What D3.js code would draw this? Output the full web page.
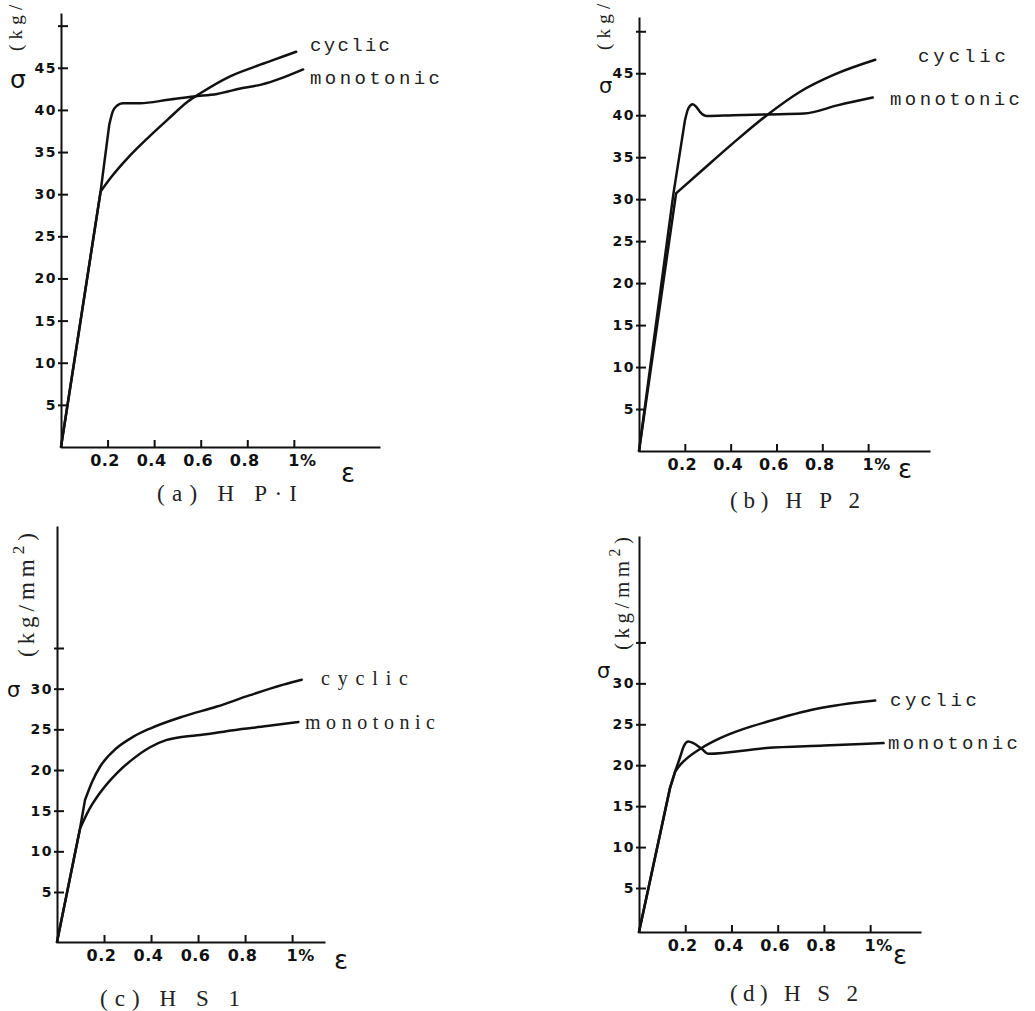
<!DOCTYPE html>
<html>
<head>
<meta charset="utf-8">
<script src="https://cdn.jsdelivr.net/npm/d3@7"></script>
<style>
  body { margin: 0; background: #fff; }
  svg { display: block; }
</style>
</head>
<body>
<svg id="chart" width="1035" height="1011"></svg>
<script>
// strain ticks (%), shared by all four panels
let strainTicks = [0.2, 0.4, 0.6, 0.8, 1.0]
let strainTickLabels = ["0.2", "0.4", "0.6", "0.8", "1%"]

// stress ticks (kg/mm2)
let stressTicksHP = [5, 10, 15, 20, 25, 30, 35, 40, 45, 50]
let stressLabelsHP = [5, 10, 15, 20, 25, 30, 35, 40, 45]
let stressTicksHS = [5, 10, 15, 20, 25, 30, 35]
let stressLabelsHS = [5, 10, 15, 20, 25, 30]

let seriesNames = ["cyclic", "monotonic"]
let captions = ["(a) H P\u00b7I", "(b) H P 2", "(c) H S 1", "(d) H S 2"]

// [strain %, stress kg/mm2]
let hp1Cyclic = [[0, 0], [0.17, 30.3], [0.215, 32.0], [0.29, 34.4], [0.37, 36.6], [0.46, 38.9],
  [0.545, 41.0], [0.60, 42.0], [0.72, 43.9], [0.83, 45.1], [0.91, 45.9], [1.01, 46.9]]
let hp1Monotonic = [[0, 0], [0.17, 30.3], [0.207, 38.2], [0.222, 39.8], [0.24, 40.5], [0.265, 40.8],
  [0.34, 40.8], [0.46, 41.2], [0.57, 41.6], [0.67, 41.9], [0.78, 42.6], [0.86, 43.0], [0.95, 43.8], [1.04, 44.8]]

let hp2Cyclic = [[0, 0], [0.162, 30.7], [0.266, 33.2], [0.412, 36.7], [0.558, 40.0], [0.703, 42.8],
  [0.849, 44.8], [1.031, 46.6]]
let hp2Monotonic = [[0, 0], [0.15, 30.6], [0.2, 39.3], [0.215, 40.8], [0.234, 41.3], [0.25, 41.0],
  [0.266, 40.4], [0.296, 39.9], [0.41, 40.0], [0.56, 40.1], [0.72, 40.2], [0.87, 41.2], [1.02, 42.1]]

let hs1Cyclic = [[0, 0], [0.098, 12.8], [0.119, 16.3], [0.15, 18.6], [0.183, 20.4], [0.254, 22.7],
  [0.325, 24.1], [0.396, 25.1], [0.538, 26.6], [0.68, 27.8], [0.821, 29.2], [0.963, 30.5], [1.041, 31.1]]
let hs1Monotonic = [[0, 0], [0.098, 12.8], [0.14, 15.3], [0.183, 17.2], [0.254, 19.6], [0.325, 21.4],
  [0.396, 22.8], [0.467, 23.7], [0.538, 24.1], [0.609, 24.3], [0.751, 24.9], [0.893, 25.4], [1.027, 25.9]]

let hs2Cyclic = [[0, 0], [0.134, 17.2], [0.156, 19.2], [0.18, 20.1], [0.206, 20.8], [0.271, 22.1],
  [0.351, 23.3], [0.45, 24.4], [0.553, 25.3], [0.769, 26.9], [1.022, 27.9]]
let hs2Monotonic = [[0, 0], [0.134, 17.2], [0.156, 19.2], [0.178, 21.0], [0.195, 22.4], [0.213, 22.9],
  [0.235, 22.7], [0.271, 22.0], [0.3, 21.4], [0.55, 22.1], [0.8, 22.4], [1.058, 22.7]]

let svg = d3.select("#chart")
let ink = "#111"

// knee = last index of the straight elastic part, drawn as a plain line
let panels = [
  {
    caption: captions[0], xDomain: [0, 1.37], xRange: [61, 380],
    yDomain: [0, 51.5], yRange: [447, 13],
    yTicks: stressTicksHP, yLabels: stressLabelsHP,
    series: [{ data: hp1Cyclic, knee: 1 }, { data: hp1Monotonic, knee: 2 }],
    labelFont: "Liberation Mono", labelSize: 19,
    labels: [{ x: 310, y: 51, w: 80 }, { x: 310, y: 84, w: 130 }],
    sigma: { x: 10, y: 88, size: 25 },
    unit: { x: 22, y: 51, size: 19, w: 110 },
    eps: { x: 348, y: 482 },
    cap: { x: 227, y: 501, w: 140 }
  },
  {
    caption: captions[1], xDomain: [0, 1.27], xRange: [639, 930],
    yDomain: [0, 51.7], yRange: [451, 17],
    yTicks: stressTicksHP, yLabels: stressLabelsHP,
    series: [{ data: hp2Cyclic, knee: 1 }, { data: hp2Monotonic, knee: 2 }],
    labelFont: "Liberation Mono", labelSize: 19,
    labels: [{ x: 918, y: 62, w: 88 }, { x: 890, y: 105, w: 130 }],
    sigma: { x: 599, y: 93, size: 21 },
    unit: { x: 610, y: 50, size: 19, w: 110 },
    eps: { x: 905, y: 478 },
    cap: { x: 795, y: 508, w: 130 }
  },
  {
    caption: captions[2], xDomain: [0, 1.14], xRange: [57, 325],
    yDomain: [0, 5, 50], yRange: [942, 892, 526],
    yTicks: stressTicksHS, yLabels: stressLabelsHS,
    series: [{ data: hs1Cyclic, knee: 2 }, { data: hs1Monotonic, knee: 1 }],
    labelFont: "Liberation Serif", labelSize: 20,
    labels: [{ x: 321, y: 685, w: 87 }, { x: 305, y: 729, w: 130 }],
    sigma: { x: 7, y: 697, size: 21 },
    unit: { x: 34, y: 657, size: 23, w: 124 },
    eps: { x: 341, y: 969 },
    cap: { x: 170, y: 1006, w: 140 }
  },
  {
    caption: captions[3], xDomain: [0, 1.22], xRange: [639, 921],
    yDomain: [0, 5, 48], yRange: [932, 888, 536],
    yTicks: stressTicksHS, yLabels: stressLabelsHS,
    series: [{ data: hs2Cyclic, knee: 2 }, { data: hs2Monotonic, knee: 2 }],
    labelFont: "Liberation Mono", labelSize: 19,
    labels: [{ x: 890, y: 706, w: 87 }, { x: 888, y: 749, w: 130 }],
    sigma: { x: 597, y: 678, size: 21 },
    unit: { x: 629, y: 650, size: 21, w: 113 },
    eps: { x: 900, y: 964 },
    cap: { x: 794, y: 1001, w: 128 }
  }
]

function drawPanel(p) {
  let x = d3.scaleLinear().domain(p.xDomain).range(p.xRange)
  let y = d3.scaleLinear().domain(p.yDomain).range(p.yRange)
  let g = svg.append("g")

  // y axis, ticks point inward
  let yAxis = d3.axisLeft(y)
    .tickValues(p.yTicks)
    .tickSizeInner(-7)
    .tickSizeOuter(0)
    .tickPadding(4)
    .tickFormat(d => p.yLabels.includes(d) ? d : "")
  let ya = g.append("g")
    .attr("transform", "translate(" + x(0) + ",0)")
    .call(yAxis)
  ya.selectAll(".tick line").attr("x1", -3)
  ya.selectAll("text")
    .attr("font-family", "DejaVu Sans")
    .attr("font-weight", "bold")
    .attr("font-size", 14)
    .attr("letter-spacing", 1.5)
    .attr("fill", ink)

  let xAxis = d3.axisBottom(x)
    .tickValues(strainTicks)
    .tickSizeInner(-7)
    .tickSizeOuter(0)
    .tickPadding(8)
    .tickFormat((d, i) => strainTickLabels[i])
  let xa = g.append("g")
    .attr("transform", "translate(0," + y(0) + ")")
    .call(xAxis)
  xa.selectAll("text")
    .attr("font-family", "DejaVu Sans")
    .attr("font-weight", "bold")
    .attr("font-size", 16)
    .attr("letter-spacing", 0.5)
    .attr("fill", ink)
    .attr("dx", (d, i) => i == strainTicks.length - 1 ? 8 : -3)

  g.selectAll(".domain, .tick line")
    .attr("stroke", ink)
    .attr("stroke-width", 2)

  // curves: straight elastic part + smooth hardening part
  let straight = d3.line().x(d => x(d[0])).y(d => y(d[1]))
  let smooth = d3.line().curve(d3.curveMonotoneX).x(d => x(d[0])).y(d => y(d[1]))
  p.series.forEach(s => {
    g.append("path")
      .attr("d", straight(s.data.slice(0, s.knee + 1)) + smooth(s.data.slice(s.knee)))
      .attr("fill", "none")
      .attr("stroke", ink)
      .attr("stroke-width", 2.5)
      .attr("stroke-linejoin", "round")
      .attr("stroke-linecap", "round")
  })

  p.labels.forEach((l, i) => {
    g.append("text")
      .attr("x", l.x)
      .attr("y", l.y)
      .attr("font-family", p.labelFont)
      .attr("font-size", p.labelSize)
      .attr("textLength", l.w)
      .attr("lengthAdjust", "spacing")
      .attr("fill", "#222")
      .text(seriesNames[i])
  })

  // axis titles
  g.append("text")
    .attr("x", p.sigma.x)
    .attr("y", p.sigma.y)
    .attr("font-family", "DejaVu Sans")
    .attr("font-size", p.sigma.size)
    .attr("fill", ink)
    .text("\u03c3")

  let unit = g.append("text")
    .attr("transform", "translate(" + p.unit.x + "," + p.unit.y + ") rotate(-90)")
    .attr("font-family", "Liberation Serif")
    .attr("font-size", p.unit.size)
    .attr("textLength", p.unit.w)
    .attr("lengthAdjust", "spacing")
    .attr("fill", "#222")
  unit.append("tspan").text("(kg/mm")
  unit.append("tspan").attr("dy", -p.unit.size * 0.45).attr("font-size", p.unit.size * 0.75).text("2")
  unit.append("tspan").attr("dy", p.unit.size * 0.45).text(")")

  g.append("text")
    .attr("x", p.eps.x)
    .attr("y", p.eps.y)
    .attr("text-anchor", "middle")
    .attr("font-family", "DejaVu Sans")
    .attr("font-size", 26)
    .attr("fill", ink)
    .text("\u03b5")

  g.append("text")
    .attr("x", p.cap.x - p.cap.w / 2)
    .attr("y", p.cap.y)
    .attr("font-family", "Liberation Serif")
    .attr("font-size", 23)
    .attr("textLength", p.cap.w)
    .attr("lengthAdjust", "spacing")
    .attr("fill", "#222")
    .text(p.caption)
}

panels.forEach(drawPanel)
</script>
</body>
</html>
